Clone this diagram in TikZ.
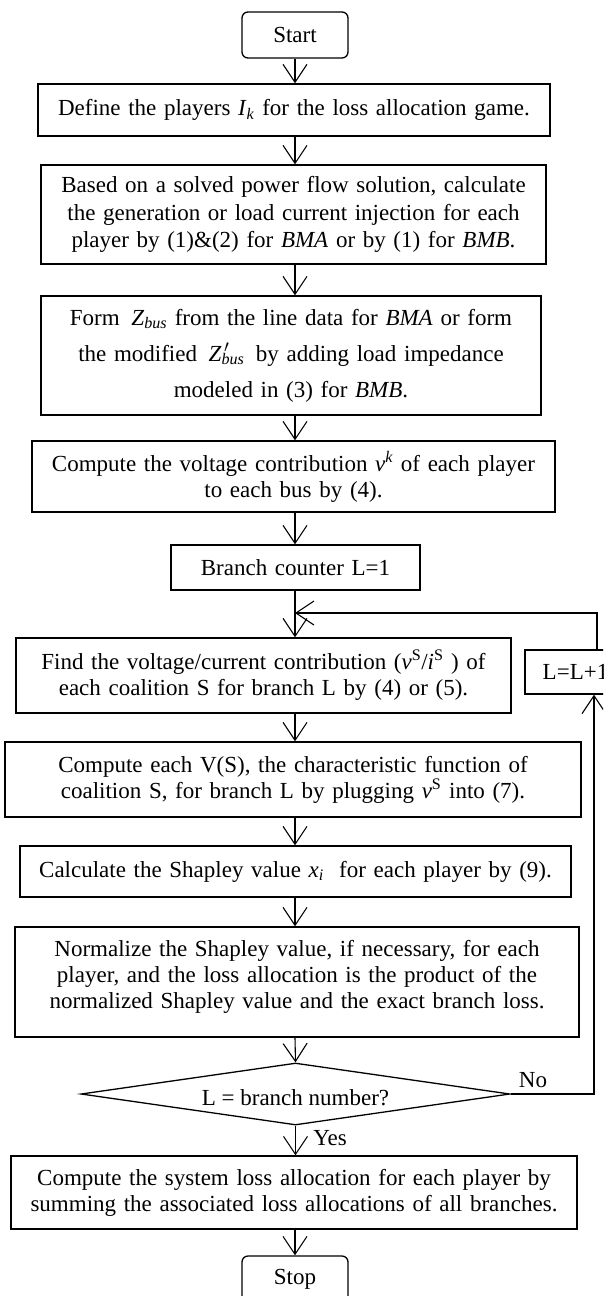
\documentclass[tikz,border=0pt]{standalone}
\usepackage{fontspec}
\setmainfont{Liberation Serif}
\usetikzlibrary{arrows.meta,shapes.geometric}
\tikzset{
  every node/.style={font=\fontsize{23}{26}\selectfont},
  boxn/.style={draw, line width=1.3pt, rectangle, inner xsep=3pt, inner ysep=0pt, align=center},
  termn/.style={boxn, rounded corners=6pt},
  bx/.style n args={3}{minimum width=#1pt, minimum height=#2pt, text width=#3pt},
  arr/.style={line width=1.1pt, -{Straight Barb[length=18pt,width=24pt,line width=1.1pt]}},
  lbl/.style={inner sep=0pt}
}
\begin{document}
\begin{tikzpicture}[x=1pt,y=-1pt]
\useasboundingbox (0,0) rectangle (603,1296);
\clip (0,0) rectangle (603,1296);
\node[termn, minimum width=106pt, minimum height=46pt] (start) at (295,35) {Start};
\node[boxn, bx={512}{52}{506}] (define) at (294,110) {Define the players \textit{I}\textsubscript{\textit{k}} for the loss allocation game.};
\node[boxn, bx={505}{99}{499}] (b3) at (293.5,214.5) {Based on a solved power flow solution, calculate\\[1.5pt] the generation or load current injection for each\\[1.5pt] player by (1)\&(2) for \textit{BMA} or by (1) for \textit{BMB}.};
\node[boxn, bx={500}{119}{494}] (b4) at (291,355.5) {Form\, \textit{Z}\textsubscript{\textit{bus}} from the line data for \textit{BMA} or form\\[10pt] the modified\, \textit{Z}\makebox[0pt][l]{\textsuperscript{\,$\prime$}}\textsubscript{\textit{bus}}\, by adding load impedance\\[10pt] modeled in (3) for \textit{BMB}.};
\node[boxn, bx={523}{71}{517}] (b5) at (293.5,476.5) {Compute the voltage contribution \textit{v}\textsuperscript{\textit{k}} of each player\\ to each bus by (4).};
\node[boxn, bx={249}{45}{243}] (b6) at (295.5,567.5) {Branch counter L=1};
\node[boxn, bx={495}{75}{489}] (b7) at (263.5,675.5) {Find the voltage/current contribution (\textit{v}\textsuperscript{S}/\textit{i}\textsuperscript{S} ) of\\ each coalition S for branch L by (4) or (5).};
\node[boxn, bx={101}{44}{95}] (linc) at (575.5,672) {L=L+1};
\node[boxn, bx={576}{75}{570}] (vs) at (293,779.5) {Compute each V(S), the characteristic function of\\ coalition S, for branch L by plugging \textit{v}\textsuperscript{S} into (7).};
\node[boxn, bx={551}{51}{545}] (shap) at (295.5,871.5) {Calculate the Shapley value \textit{x}\textsubscript{\textit{i}}\ \ for each player by (9).};
\node[boxn, bx={564}{110}{558}] (norm) at (297,982) {};
\node[lbl, text width=558pt, align=center] (normt) at (297,977) {Normalize the Shapley value, if necessary, for each\\ player, and the loss allocation is the product of the\\ normalized Shapley value and the exact branch loss.};
\node[draw, line width=1.3pt, diamond, aspect=6.9, inner sep=0pt, minimum width=429pt, minimum height=62pt] (dia) at (295.5,1094) {};
\node[lbl] (diat) at (295.5,1098) {L = branch number?};
\node[boxn, bx={566}{73}{560}] (sys) at (294,1192.5) {Compute the system loss allocation for each player by\\ summing the associated loss allocations of all branches.};
\node[termn, minimum width=106pt, minimum height=46pt] (stop) at (295,1279) {Stop};
\node[lbl] (no) at (533,1080) {No};
\node[lbl] (yes) at (330,1138) {Yes};
\coordinate (rx) at (597,0);
\coordinate (rx2) at (594,0);
\coordinate (loopy) at (0,613);
\draw[arr] (start.south) -- (start.south |- define.north);
\draw[arr] (start.south |- define.south) -- (start.south |- b3.north);
\draw[arr] (start.south |- b3.south) -- (start.south |- b4.north);
\draw[arr] (start.south |- b4.south) -- (start.south |- b5.north);
\draw[arr] (start.south |- b5.south) -- (start.south |- b6.north);
\draw[arr] (start.south |- b6.south) -- (start.south |- b7.north);
\draw[arr] (rx |- linc.north) -- (rx |- loopy) -- (start.south |- loopy);
\draw[arr] (start.south |- b7.south) -- (start.south |- vs.north);
\draw[arr] (start.south |- vs.south) -- (start.south |- shap.north);
\draw[arr] (start.south |- shap.south) -- (start.south |- norm.north);
\draw[arr] (start.south |- norm.south) -- (dia.north);
\draw[arr] (dia.east) -- (dia.east -| rx2) -- (rx2 |- linc.south);
\draw[arr] (dia.south) -- (dia.south |- sys.north);
\draw[arr] (start.south |- sys.south) -- (stop.north);
\end{tikzpicture}
\end{document}
